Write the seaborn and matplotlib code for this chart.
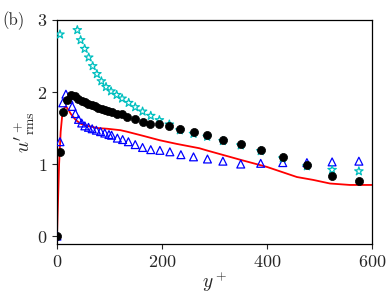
import numpy as np
import pandas as pd
import seaborn as sns
import matplotlib
matplotlib.use("Agg")
import matplotlib.pyplot as plt

# %% values
line_y = [0, 2, 4, 7, 10, 14, 17, 22, 26, 36, 45, 58, 77, 96, 121, 133, 165, 196,
          228, 271, 285, 349, 400, 457, 488, 520, 558, 600]
line_u = [0, 0.5, 1.0, 1.45, 1.68, 1.78, 1.80, 1.75, 1.70, 1.61, 1.56, 1.53, 1.50, 1.49,
          1.47, 1.45, 1.39, 1.33, 1.28, 1.22, 1.19, 1.06, 0.96, 0.82, 0.78, 0.73, 0.71, 0.71]

dns_y = [0, 5.5, 12, 18.5, 26, 34, 40.6, 47, 53, 59.7, 66, 72, 78.7, 85, 91.5, 97.8,
         104, 113.6, 123, 133, 149, 163, 177, 195, 214, 234, 260, 286.6, 316, 350,
         388, 430, 476, 524, 575]
dns_u = [0, 1.17, 1.72, 1.89, 1.96, 1.94, 1.91, 1.88, 1.86, 1.84, 1.82, 1.80, 1.78,
         1.77, 1.75, 1.74, 1.72, 1.70, 1.69, 1.66, 1.62, 1.58, 1.56, 1.55, 1.53, 1.49,
         1.45, 1.40, 1.34, 1.28, 1.20, 1.10, 0.99, 0.84, 0.76]

tri_y = [0, 5.7, 11, 17, 23, 29, 35, 41, 47, 53, 60, 67, 75, 83, 91, 99, 104, 115,
         125, 136, 149, 163, 178.6, 196, 215, 236, 260, 286.6, 316, 350, 388, 430,
         476, 524, 575]
tri_u = [0, 1.31, 1.85, 1.97, 1.90, 1.80, 1.70, 1.62, 1.57, 1.53, 1.51, 1.49, 1.47,
         1.45, 1.43, 1.41, 1.40, 1.36, 1.34, 1.31, 1.27, 1.23, 1.20, 1.19, 1.17, 1.13,
         1.10, 1.07, 1.04, 1.00, 1.01, 1.02, 1.02, 1.03, 1.04]

star_y = [5.7, 38.7, 45, 52.7, 60.4, 68, 76, 84.5, 93.4, 103, 113.7, 124, 136.6, 149,
          163, 178.6, 195, 214, 234, 260, 286, 316, 350, 388, 430, 476, 524, 575]
star_u = [2.80, 2.86, 2.72, 2.60, 2.48, 2.36, 2.25, 2.15, 2.07, 2.01, 1.96, 1.91, 1.85,
          1.79, 1.73, 1.67, 1.61, 1.55, 1.47, 1.42, 1.38, 1.32, 1.26, 1.18, 1.08, 0.97,
          0.92, 0.90]

x_ticks = [0, 200, 400, 600]
y_ticks = [0, 1, 2, 3]

# %% plotting
sns.set_style("ticks")
plt.rcParams['font.family'] = 'serif'
plt.rcParams['font.serif'] = ['cmr10', 'DejaVu Serif']
plt.rcParams['mathtext.fontset'] = 'cm'
plt.rcParams['axes.formatter.use_mathtext'] = True
plt.rcParams['axes.unicode_minus'] = False

fig = plt.figure(figsize=(3.92, 2.94), dpi=100)
ax = fig.add_axes([0.1454, 0.170, 0.8036, 0.762])

line_df = pd.DataFrame({'y': line_y, 'u': line_u})
sns.lineplot(data=line_df, x='y', y='u', color='red', linewidth=1.3, ax=ax, zorder=2)

tri_df = pd.DataFrame({'y': tri_y, 'u': tri_u})
sns.scatterplot(data=tri_df, x='y', y='u', marker='^', s=32, facecolor='none',
                edgecolor='blue', linewidth=0.9, ax=ax, zorder=3)

star_df = pd.DataFrame({'y': star_y, 'u': star_u})
sns.scatterplot(data=star_df, x='y', y='u', marker='*', s=40, facecolor='none',
                edgecolor='c', linewidth=0.9, ax=ax, zorder=3)

dns_df = pd.DataFrame({'y': dns_y, 'u': dns_u})
sns.scatterplot(data=dns_df, x='y', y='u', marker='o', s=34, color='black',
                edgecolor='black', linewidth=0.5, ax=ax, zorder=4)

ax.set_xlim(0, 600)
ax.set_ylim(-0.11, 3)
ax.set_xticks(x_ticks)
ax.set_yticks(y_ticks)
ax.tick_params(labelsize=13, length=3.5, width=0.8, direction='out')
for s in ax.spines.values():
    s.set_linewidth(0.9)
    s.set_color('black')
ax.set_xlabel(r'$y^+$', fontsize=14, labelpad=0)
ax.set_ylabel(r"$u'^+_{\rm rms}$", fontsize=14, labelpad=0)
fig.text(0.005, 0.96, '(b)', fontsize=12, va='top', ha='left')

fig.savefig('out.png', dpi=100)
